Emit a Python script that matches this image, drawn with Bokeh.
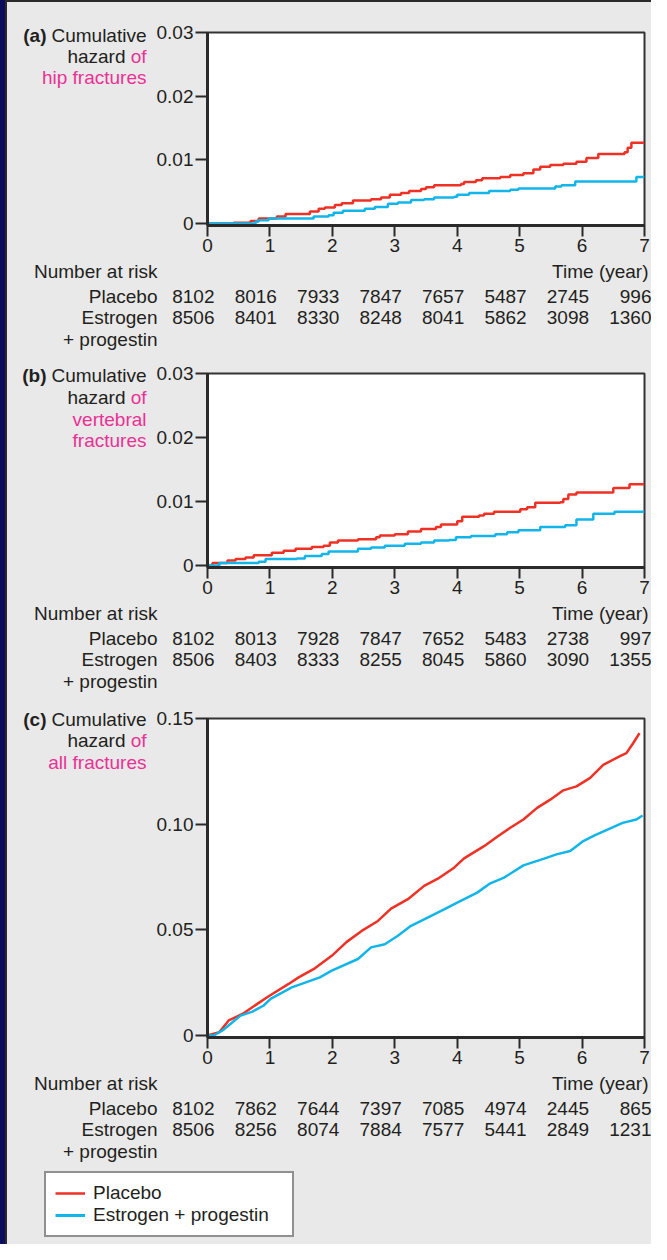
from bokeh.plotting import figure
from bokeh.models import Range1d, FixedTicker, Legend, LegendItem, Spacer
from bokeh.layouts import column, row
from bokeh.core.properties import value
from bokeh.embed import file_html
from bokeh.resources import INLINE

# ---------------- data ----------------
years = [0, 1, 2, 3, 4, 5, 6, 7]

hip_placebo_t = [0, 0.42, 0.69, 0.82, 1.11, 1.25, 1.64, 1.78, 1.88, 2.04, 2.15, 2.33, 2.62, 2.78, 2.92, 3.10,
                 3.23, 3.42, 3.50, 3.63, 4.06, 4.11, 4.30, 4.40, 4.69, 4.85, 5.06, 5.22, 5.33, 5.49, 5.70, 5.91,
                 6.07, 6.26, 6.68, 6.73, 6.79, 7.00]
hip_placebo_h = [0, 0.0001, 0.0004, 0.0008, 0.0011, 0.0015, 0.0019, 0.0023, 0.0025, 0.0029, 0.0032, 0.0036,
                 0.0038, 0.0041, 0.0045, 0.0048, 0.0051, 0.0054, 0.0057, 0.0060, 0.0062, 0.0065, 0.0068, 0.0071,
                 0.0073, 0.0076, 0.0079, 0.0085, 0.0089, 0.0092, 0.0094, 0.0097, 0.0103, 0.0109, 0.0112, 0.0119,
                 0.0127, 0.0127]
hip_ep_t = [0, 0.77, 0.82, 0.98, 1.70, 1.94, 2.02, 2.17, 2.52, 2.68, 2.89, 3.05, 3.26, 3.47, 3.63, 3.95, 4.00,
            4.19, 4.51, 4.85, 4.98, 5.57, 5.67, 5.89, 6.87, 7.00]
hip_ep_h = [0, 0.0003, 0.0005, 0.0008, 0.0011, 0.0013, 0.0017, 0.0020, 0.0023, 0.0026, 0.0031, 0.0033, 0.0037,
            0.0038, 0.0041, 0.0042, 0.0045, 0.0048, 0.0051, 0.0053, 0.0055, 0.0058, 0.0060, 0.0066, 0.0073, 0.0073]

vert_placebo_t = [0, 0.08, 0.32, 0.45, 0.61, 0.74, 1.03, 1.22, 1.41, 1.67, 1.86, 1.96, 2.09, 2.41, 2.70, 2.76,
                  3.00, 3.21, 3.42, 3.66, 3.74, 4.00, 4.08, 4.35, 4.43, 4.59, 5.01, 5.12, 5.25, 5.65, 5.70, 5.78,
                  5.91, 6.50, 6.76, 7.00]
vert_placebo_h = [0, 0.0004, 0.0008, 0.0010, 0.00125, 0.0016, 0.0020, 0.0023, 0.0026, 0.0029, 0.0031, 0.0036,
                  0.0039, 0.0041, 0.0044, 0.0047, 0.0049, 0.0053, 0.0057, 0.0060, 0.0064, 0.0069, 0.0076, 0.0078,
                  0.0081, 0.0084, 0.0088, 0.0091, 0.0098, 0.0099, 0.0104, 0.0111, 0.0114, 0.0121, 0.0127, 0.0127]
vert_ep_t = [0, 0.19, 0.82, 0.93, 1.43, 1.56, 1.83, 1.94, 2.41, 2.62, 2.84, 3.16, 3.42, 3.63, 3.87, 3.98, 4.22,
             4.61, 4.80, 4.98, 5.33, 5.73, 5.91, 6.18, 6.52, 7.00]
vert_ep_h = [0, 0.0004, 0.0006, 0.0010, 0.0011, 0.0015, 0.0018, 0.0022, 0.0026, 0.0028, 0.0031, 0.0034, 0.0036,
             0.0039, 0.0040, 0.0044, 0.0046, 0.0049, 0.0052, 0.0055, 0.0060, 0.0063, 0.0072, 0.0081, 0.0084, 0.0084]

all_placebo_t = [0, 0.19, 0.34, 0.56, 0.98, 1.30, 1.46, 1.72, 1.99, 2.23, 2.47, 2.73, 2.94, 3.21, 3.47, 3.69,
                 3.95, 4.11, 4.43, 4.64, 4.85, 5.06, 5.28, 5.49, 5.70, 5.91, 6.13, 6.34, 6.60, 6.71, 6.82, 6.92]
all_placebo_h = [0, 0.0016, 0.0071, 0.0102, 0.0186, 0.0244, 0.0275, 0.0318, 0.0377, 0.0443, 0.0495, 0.0542,
                 0.0600, 0.0645, 0.0708, 0.0742, 0.0794, 0.0838, 0.0896, 0.0940, 0.0983, 0.1022, 0.1077, 0.1116,
                 0.1160, 0.1179, 0.1219, 0.1281, 0.1321, 0.1336, 0.1384, 0.1431]
all_ep_t = [0, 0.10, 0.24, 0.40, 0.53, 0.72, 0.90, 1.01, 1.35, 1.80, 1.99, 2.41, 2.62, 2.84, 3.05, 3.26, 3.47,
            3.79, 4.00, 4.32, 4.53, 4.75, 5.06, 5.38, 5.59, 5.81, 6.02, 6.20, 6.39, 6.65, 6.87, 6.97]
all_ep_h = [0, 0.0000, 0.0024, 0.0063, 0.0094, 0.0113, 0.0142, 0.0173, 0.0228, 0.0275, 0.0307, 0.0362, 0.0417,
            0.0432, 0.0472, 0.0519, 0.0550, 0.0597, 0.0629, 0.0676, 0.0720, 0.0747, 0.0805, 0.0836, 0.0857,
            0.0873, 0.0920, 0.0947, 0.0972, 0.1006, 0.1022, 0.1041]

risk_hip_placebo = [8102, 8016, 7933, 7847, 7657, 5487, 2745, 996]
risk_hip_ep = [8506, 8401, 8330, 8248, 8041, 5862, 3098, 1360]
risk_vert_placebo = [8102, 8013, 7928, 7847, 7652, 5483, 2738, 997]
risk_vert_ep = [8506, 8403, 8333, 8255, 8045, 5860, 3090, 1355]
risk_all_placebo = [8102, 7862, 7644, 7397, 7085, 4974, 2445, 865]
risk_all_ep = [8506, 8256, 8074, 7884, 7577, 5441, 2849, 1231]

yticks_small = [0, 0.01, 0.02, 0.03]
ylabels_small = ["0", "0.01", "0.02", "0.03"]
yticks_all = [0, 0.05, 0.10, 0.15]
ylabels_all = ["0", "0.05", "0.10", "0.15"]

series_names = ["Placebo", "Estrogen + progestin"]
row_labels = ["Placebo", "Estrogen", "+ progestin"]

# ---------------- style ----------------
FONT = "Liberation Sans"
DARK = "#231f20"
AXC = "#2a2a2a"
PINK = "#ea3195"
RED = "#ee3124"
BLUE = "#12b5ea"
GRAY = "#e9e9e9"
NAVY = "#0c0c5c"
FS = "19px"

COL_X = 15        # page x where the grey column starts
COL_R = 659       # page x of right edge
LBL_R = 160       # page x where the label strip ends / main fig starts
FRAME_L = 215
FRAME_R = 652
SX = (FRAME_R - FRAME_L) / 7.0   # px per year


def yrs(px):
    return (px - FRAME_L) / SX


def blank_fig(x_range, top, bottom, width):
    f = figure(width=width, height=bottom - top, x_range=x_range, y_range=Range1d(bottom, top),
               output_backend="svg", toolbar_location=None, x_axis_type=None, y_axis_type=None,
               min_border=0, frame_align=False)
    f.outline_line_color = None
    f.background_fill_color = GRAY
    f.border_fill_color = GRAY
    f.grid.visible = False
    return f


def txt(f, xs, ys, texts, color=DARK, align="right", style="normal", xoff=0):
    f.text(x=xs, y=ys, text=texts, text_font=value(FONT), text_font_size=value(FS), text_color=color,
           text_align=align, text_baseline="middle", text_font_style=style, x_offset=xoff)


def main_fig(top, frame_top, frame_bottom, ymax, yticks, ylabels):
    bt = frame_top - top
    fh = frame_bottom - frame_top
    bb = 36
    zero_px = frame_bottom - 2
    per_px = ymax / (zero_px - frame_top)
    p = figure(width=COL_R - LBL_R, height=bt + fh + bb, x_range=Range1d(0, 7),
               y_range=Range1d(-2 * per_px, ymax), output_backend="svg", toolbar_location=None,
               min_border_left=FRAME_L - LBL_R, min_border_right=COL_R - FRAME_R,
               min_border_top=bt, min_border_bottom=bb, frame_align=False)
    p.background_fill_color = "white"
    p.border_fill_color = GRAY
    p.outline_line_color = "#333333"
    p.outline_line_width = 2
    p.grid.visible = False
    p.xaxis.ticker = FixedTicker(ticks=years)
    p.yaxis.ticker = FixedTicker(ticks=yticks)
    p.yaxis.major_label_overrides = {t: l for t, l in zip(yticks, ylabels)}
    for ax in (p.xaxis[0], p.yaxis[0]):
        ax.axis_line_width = 3
        ax.axis_line_color = AXC
        ax.major_tick_line_color = AXC
        ax.major_tick_line_width = 2
        ax.major_tick_in = 0
        ax.minor_tick_line_color = None
        ax.major_label_text_font = FONT
        ax.major_label_text_font_size = FS
        ax.major_label_text_color = DARK
    p.yaxis.major_tick_out = 12
    p.yaxis.major_label_standoff = 2
    p.xaxis.major_tick_out = 11
    p.xaxis.major_label_standoff = 2
    return p, top + bt + fh + bb, zero_px


def build_panel(top, frame_top, frame_bottom, bottom, ymax, yticks, ylabels, tag, lines_y, pink_lines,
                series, risk_pl, risk_ep, step=True, legend=False):
    p, main_bottom, zero_px = main_fig(top, frame_top, frame_bottom, ymax, yticks, ylabels)
    for (t, h), col in zip(series, [RED, BLUE]):
        if step:
            p.step(t, h, mode="after", line_color=col, line_width=2.5)
        else:
            p.line(t, h, line_color=col, line_width=2.5)

    # label strip at the left
    lf = blank_fig(Range1d(COL_X, LBL_R), top, main_bottom, LBL_R - COL_X)
    txt(lf, [154], [lines_y[0]], ["Cumulative"])
    txt(lf, [54], [lines_y[0]], [tag], style="bold")
    txt(lf, [154], [lines_y[1]], ["of"], color=PINK)
    txt(lf, [133], [lines_y[1]], ["hazard"])
    txt(lf, [154] * len(pink_lines), lines_y[2:], pink_lines, color=PINK)

    # number-at-risk table below
    tf = blank_fig(Range1d(yrs(COL_X), yrs(COL_R)), main_bottom, bottom, COL_R - COL_X)
    r_y = [zero_px + 73, zero_px + 94, zero_px + 116]
    txt(tf, [yrs(165)], [zero_px + 48], ["Number at risk"])
    txt(tf, [yrs(656)], [zero_px + 48], ["Time (year)"])
    txt(tf, [yrs(165)] * 3, r_y, row_labels)
    txt(tf, years, [r_y[0]] * len(years), [str(v) for v in risk_pl], xoff=7)
    txt(tf, years, [r_y[1]] * len(years), [str(v) for v in risk_ep], xoff=7)

    if legend:
        nan = float("nan")
        d1 = tf.line(x=[nan, nan], y=[nan, nan], line_color=RED, line_width=2.5)
        d2 = tf.line(x=[nan, nan], y=[nan, nan], line_color=BLUE, line_width=3)
        lg = Legend(items=[LegendItem(label=series_names[0], renderers=[d1]),
                           LegendItem(label=series_names[1], renderers=[d2])],
                    location=(52 - COL_X, bottom - 1245),
                    label_text_font=FONT, label_text_font_size=FS, label_text_color=DARK,
                    label_height=22, glyph_height=22, glyph_width=30, label_standoff=8,
                    label_width=190, padding=9, spacing=0, margin=0,
                    border_line_color="#222222", border_line_width=2,
                    background_fill_color="white", background_fill_alpha=1.0)
        tf.add_layout(lg)

    bg = {"background-color": GRAY}
    return column(row(lf, p, spacing=0, styles=bg), tf, spacing=0, styles=bg)


panel_a = build_panel(10, 40, 233, 360, 0.03, yticks_small, ylabels_small, "(a)", [43, 64, 85],
                      ["hip fractures"], [(hip_placebo_t, hip_placebo_h), (hip_ep_t, hip_ep_h)],
                      risk_hip_placebo, risk_hip_ep)
panel_b = build_panel(360, 381, 575, 700, 0.03, yticks_small, ylabels_small, "(b)", [383, 405, 427, 448],
                      ["vertebral", "fractures"], [(vert_placebo_t, vert_placebo_h), (vert_ep_t, vert_ep_h)],
                      risk_vert_placebo, risk_vert_ep)
panel_c = build_panel(700, 726, 1045, 1252, 0.15, yticks_all, ylabels_all, "(c)", [727, 748, 770],
                      ["all fractures"], [(all_placebo_t, all_placebo_h), (all_ep_t, all_ep_h)],
                      risk_all_placebo, risk_all_ep, step=False, legend=True)

top_line = Spacer(width=COL_R - COL_X, height=2, styles={"background-color": "#2b2b2b"})
col = column(top_line, panel_a, panel_b, panel_c, spacing=0, styles={"background-color": GRAY})
layout = row(Spacer(width=5, height=1244, styles={"background-color": NAVY}),
             Spacer(width=2, height=1244, styles={"background-color": "#2b2b2b"}),
             col, spacing=0)

open("out.html", "w").write(file_html(layout, INLINE))
